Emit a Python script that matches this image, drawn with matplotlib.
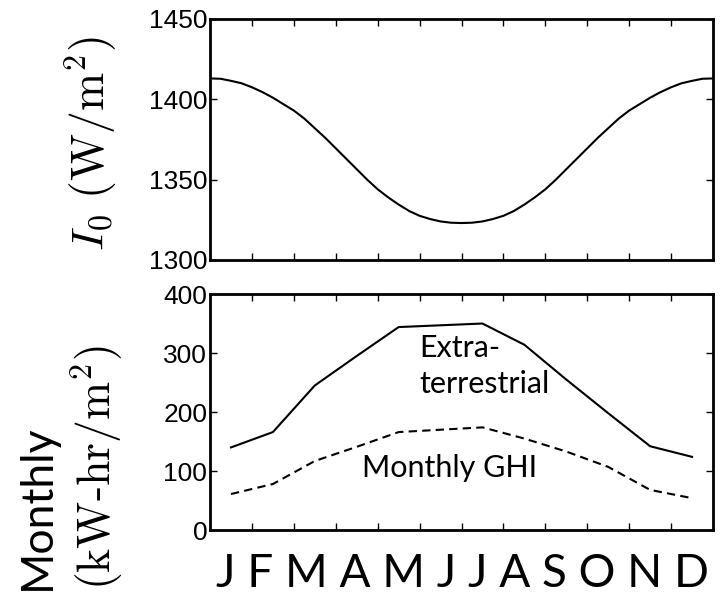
import matplotlib
matplotlib.use('Agg')
import matplotlib.pyplot as plt

plt.rcParams['mathtext.fontset'] = 'cm'

# extraterrestrial irradiance I0 over the year (x in months)
io_month = [0, 0.25, 0.5, 0.75, 1, 1.25, 1.5, 1.75, 2, 2.25, 2.5, 2.75, 3,
            3.25, 3.5, 3.75, 4, 4.25, 4.5, 4.75, 5, 5.25, 5.5, 5.75, 6,
            6.25, 6.5, 6.75, 7, 7.25, 7.5, 7.75, 8, 8.25, 8.5, 8.75, 9,
            9.25, 9.5, 9.75, 10, 10.25, 10.5, 10.75, 11, 11.25, 11.5, 11.75, 12]
io_vals = [1413, 1412.8, 1411.5, 1410, 1407.5, 1404.5, 1401, 1397, 1393, 1388, 1382, 1376, 1369.5,
           1363, 1356.5, 1350, 1344, 1339, 1334.5, 1330.5, 1327.5, 1325.5, 1324, 1323.2, 1323,
           1323.2, 1324, 1325.5, 1327.5, 1330.5, 1334.5, 1339, 1344, 1350, 1356.5, 1363, 1369.5,
           1376, 1382, 1388, 1393, 1397, 1401, 1404.5, 1407.5, 1410, 1411.5, 1412.8, 1413]

# monthly totals (kW-hr/m2), plotted at mid-month
month_mid = [0.5, 1.5, 2.5, 3.5, 4.5, 5.5, 6.5, 7.5, 8.5, 9.5, 10.5, 11.5]
extra = [140, 166, 245, 295, 344, 347, 350, 314, 255, 198, 142, 124]
ghi = [61, 78, 117, 141, 166, 170, 174, 155, 133, 107, 68, 54]

month_letters = 'J F M A M J J A S O N D'

fig = plt.figure(figsize=(7.26, 5.97), dpi=100)
ax1 = fig.add_axes([0.2893, 0.5645, 0.6928, 0.4037])
ax2 = fig.add_axes([0.2893, 0.1122, 0.6928, 0.3953])

ax1.plot(io_month, io_vals, 'k-', lw=1.5)
ax1.set_xlim(0, 12)
ax1.set_ylim(1300, 1450)
ax1.set_yticks([1300, 1350, 1400, 1450])

ax2.plot(month_mid, extra, 'k-', lw=1.5)
ax2.plot(month_mid, ghi, 'k--', lw=1.5, dashes=(4, 2.5))
ax2.set_xlim(0, 12)
ax2.set_ylim(0, 400)
ax2.set_yticks([0, 100, 200, 300, 400])

for ax in (ax1, ax2):
    ax.set_xticks(range(1, 12))
    ax.set_xticklabels([])
    ax.tick_params(direction='in', top=True, right=True, length=5, width=1,
                   labelsize=19, pad=2)
    for lab in ax.get_yticklabels():
        lab.set_fontfamily('Liberation Sans')
    for s in ax.spines.values():
        s.set_linewidth(2)

ax2.text(5.0, 293, 'Extra-', fontfamily='Lato', fontsize=22, va='baseline', ha='left')
ax2.text(5.0, 232, 'terrestrial', fontfamily='Lato', fontsize=22, va='baseline', ha='left')
ax2.text(3.62, 90, 'Monthly GHI', fontfamily='Lato', fontsize=22, va='baseline', ha='left')

fig.text(0.637, 0.0167, month_letters, fontfamily='Lato', fontsize=33,
         ha='center', va='baseline')

fig.text(0.125, 0.76, r'$I_0\ \mathrm{(W/m^2)}$', fontsize=33, rotation=90,
         ha='center', va='center')
fig.text(0.133, 0.0117, r'$\mathrm{(kW\text{-}hr/m^2)}$', fontsize=33, rotation=90,
         ha='center', va='bottom')
fig.text(0.052, 0.0117, 'Monthly', fontfamily='Lato', fontsize=32, rotation=90,
         ha='center', va='bottom')

fig.savefig('out.png', dpi=100)
